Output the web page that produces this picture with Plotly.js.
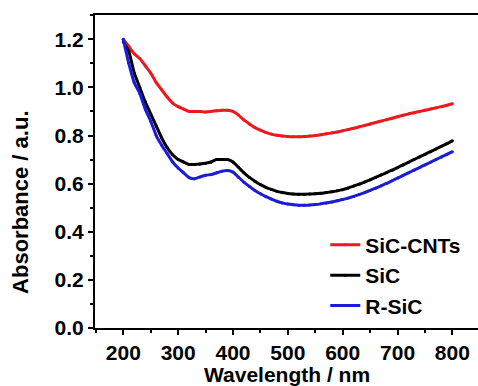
<!DOCTYPE html>
<html>
<head>
<meta charset="utf-8">
<script src="https://cdn.plot.ly/plotly-3.0.1.min.js"></script>
<style>
html,body{margin:0;padding:0;overflow:hidden;background:#fff;}
#chart{width:482px;height:386px;}
</style>
</head>
<body>
<div id="chart"></div>
<script>
const wavelength = [200,210,220,230,240,250,260,270,280,290,300,310,320,330,340,350,360,370,380,390,400,410,420,430,440,450,460,470,480,490,500,510,520,530,540,550,560,570,580,590,600,610,620,630,640,650,660,670,680,690,700,710,720,730,740,750,760,770,780,790,800];
const sicCnts = [1.20,1.17,1.14,1.12,1.09,1.06,1.02,0.99,0.96,0.935,0.92,0.91,0.90,0.90,0.90,0.898,0.90,0.903,0.905,0.905,0.90,0.885,0.865,0.848,0.833,0.822,0.813,0.806,0.801,0.798,0.796,0.795,0.795,0.796,0.798,0.80,0.803,0.807,0.811,0.815,0.82,0.825,0.83,0.836,0.842,0.848,0.854,0.86,0.866,0.872,0.878,0.884,0.89,0.895,0.90,0.905,0.91,0.915,0.92,0.926,0.932];
const sic = [1.19,1.15,1.06,1.00,0.94,0.89,0.84,0.79,0.75,0.72,0.70,0.69,0.68,0.68,0.682,0.685,0.69,0.70,0.70,0.70,0.69,0.668,0.645,0.626,0.61,0.596,0.585,0.576,0.568,0.563,0.559,0.557,0.556,0.556,0.557,0.558,0.56,0.563,0.566,0.57,0.575,0.582,0.59,0.598,0.607,0.616,0.626,0.636,0.646,0.656,0.667,0.678,0.689,0.70,0.711,0.722,0.733,0.744,0.755,0.766,0.778];
const rSic = [1.20,1.10,1.02,0.975,0.91,0.86,0.80,0.76,0.725,0.69,0.665,0.645,0.625,0.62,0.628,0.635,0.638,0.645,0.652,0.655,0.648,0.627,0.606,0.588,0.572,0.558,0.546,0.536,0.527,0.52,0.515,0.512,0.51,0.51,0.511,0.513,0.516,0.52,0.524,0.529,0.534,0.54,0.547,0.555,0.563,0.572,0.581,0.591,0.601,0.612,0.623,0.634,0.645,0.656,0.667,0.678,0.689,0.70,0.711,0.722,0.733];
const seriesNames = ['SiC-CNTs','SiC','R-SiC'];
const seriesColors = ['#ec1a1f','#000000','#1c1cd8'];
const seriesData = [sicCnts, sic, rSic];

const traces = seriesData.map((y,i)=>({
  x: wavelength, y: y, name: seriesNames[i], type: 'scatter', mode: 'lines+markers',
  line: {color: seriesColors[i], width: 3, shape: 'spline', smoothing: 0.5},
  marker: {color: seriesColors[i], size: 3}
}));

const fontFam = 'Liberation Sans, Arial, sans-serif';
const tickFont = {family: fontFam, size: 21, color: '#000', weight: 'bold'};
const layout = {
  width: 482, height: 386,
  margin: {l: 95, r: 0, t: 15, b: 58},
  paper_bgcolor: '#fff', plot_bgcolor: '#fff',
  font: {family: fontFam, size: 21, color: '#000', weight: 'bold'},
  showlegend: true,
  legend: {x: 0.595, y: 0.33, xanchor: 'left', yanchor: 'top', bgcolor: 'rgba(0,0,0,0)',
           font: {family: fontFam, size: 21, color: '#000', weight: 'bold'}, tracegroupgap: 0},
  xaxis: {
    range: [148.4, 854], showgrid: false, zeroline: false,
    showline: true, linecolor: '#000', linewidth: 2, mirror: true,
    ticks: 'outside', ticklen: 5, tickwidth: 2, tickcolor: '#000',
    tickmode: 'linear', tick0: 0, dtick: 100,
    minor: {tickmode: 'linear', ticks: 'outside', ticklen: 3, tickwidth: 2, tickcolor: '#000', dtick: 50, tick0: 0},
    tickfont: tickFont
  },
  yaxis: {
    range: [0, 1.301], showgrid: false, zeroline: false,
    showline: true, linecolor: '#000', linewidth: 2, mirror: true,
    ticks: 'outside', ticklen: 5, tickwidth: 2, tickcolor: '#000',
    tickmode: 'linear', tick0: 0, dtick: 0.2, tickformat: '.1f',
    minor: {tickmode: 'linear', ticks: 'outside', ticklen: 3, tickwidth: 2, tickcolor: '#000', dtick: 0.1, tick0: 0},
    tickfont: tickFont
  },
  annotations: [{
    text: 'Absorbance / a.u.', xref: 'paper', yref: 'paper', x: -0.191, y: 0.40,
    xanchor: 'center', yanchor: 'middle', textangle: -90, showarrow: false,
    font: {family: fontFam, size: 22, color: '#000', weight: 'bold'}
  }, {
    text: 'Wavelength / nm', xref: 'paper', yref: 'paper', x: 0.496, y: -0.187,
    xanchor: 'center', yanchor: 'bottom', showarrow: false, borderpad: 0,
    font: {family: fontFam, size: 21, color: '#000', weight: 'bold'}
  }]
};
Plotly.newPlot('chart', traces, layout, {displayModeBar: false, staticPlot: true});
</script>
</body>
</html>
